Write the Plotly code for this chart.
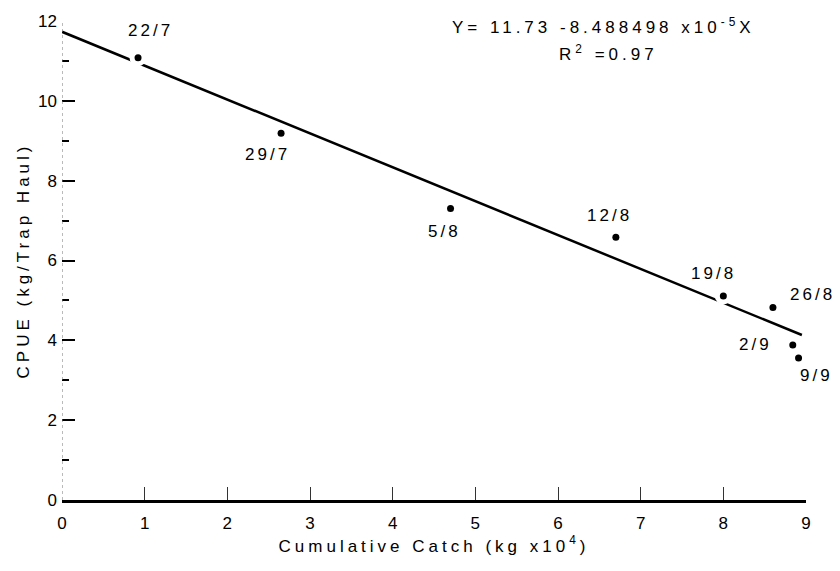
import plotly.graph_objects as go

# Data
dates = ["22/7", "29/7", "5/8", "12/8", "19/8", "26/8", "2/9", "9/9"]
cum_catch = [0.92, 2.65, 4.70, 6.70, 8.00, 8.60, 8.84, 8.91]   # kg x10^4
cpue = [11.08, 9.19, 7.30, 6.58, 5.11, 4.82, 3.88, 3.56]          # kg / trap haul

# Regression (from the printed equation)
intercept = 11.73
slope = -0.8488498  # per 10^4 kg
fit_x = [0.0, 8.95]
fit_y = [intercept + slope * v for v in fit_x]

x_ticks = list(range(0, 10))
y_ticks = list(range(0, 13, 2))

# label offsets in pixels (style)
label_dx = [12, -14, -6, -6, -10, 40, -37, 18]
label_dy = [-27, 21, 23, -22, -23, -13, -1, 18]

FONT = "Liberation Sans, Arial, sans-serif"


def sp(t, px):
    return f'<span style="letter-spacing:{px}px">{t}</span>'


fig = go.Figure()
fig.add_trace(go.Scatter(x=fit_x, y=fit_y, mode="lines",
                         line=dict(color="black", width=2.5), hoverinfo="skip"))
fig.add_trace(go.Scatter(x=cum_catch, y=cpue, mode="markers",
                         marker=dict(color="white", size=17), hoverinfo="skip"))
fig.add_trace(go.Scatter(x=cum_catch, y=cpue, mode="markers",
                         marker=dict(color="black", size=7)))

for xv, yv, t, dx, dy in zip(cum_catch, cpue, dates, label_dx, label_dy):
    fig.add_annotation(x=xv, y=yv, text=sp(t, 3), showarrow=False, xanchor="center",
                       xshift=dx, yshift=-dy, font=dict(size=17, color="black", family=FONT))

fig.add_annotation(xref="paper", yref="paper", x=(603 - 62) / 744, y=(500 - 17) / 488,
                   xanchor="center", yanchor="middle",
                   text=sp("Y= 11.73 -8.488498 x10<sup>-5</sup>X", 4),
                   showarrow=False, font=dict(size=17, color="black", family=FONT))
fig.add_annotation(xref="paper", yref="paper", x=(608 - 62) / 744, y=(500 - 45) / 488,
                   xanchor="center", yanchor="middle",
                   text=sp("R<sup>2</sup> =0.97", 4),
                   showarrow=False, font=dict(size=17, color="black", family=FONT))

# dotted y axis line
fig.add_shape(type="line", xref="x", yref="y", x0=0, x1=0, y0=0, y1=12,
              line=dict(color="#777", width=1, dash="dot"))

fig.update_layout(
    width=840, height=571,
    margin=dict(l=62, r=34, t=12, b=71),
    paper_bgcolor="white", plot_bgcolor="white",
    showlegend=False,
    font=dict(family=FONT, color="black", size=17),
    xaxis=dict(range=[0, 9], tickvals=x_ticks, ticktext=[str(v) for v in x_ticks],
               ticks="inside", ticklen=13, tickwidth=1, tickcolor="#333",
               showline=True, linecolor="black", linewidth=2.5, showgrid=False,
               zeroline=False, tickfont=dict(size=17), ticklabelstandoff=6,
               title=dict(text=sp("Cumulative Catch (kg x10<sup>4</sup>)", 4),
                          font=dict(size=17), standoff=8)),
    yaxis=dict(range=[0, 12], tickvals=y_ticks, ticktext=[str(v) for v in y_ticks],
               ticks="inside", ticklen=13, tickwidth=2, tickcolor="black",
               minor=dict(dtick=1, ticks="inside", ticklen=7, tickwidth=2, tickcolor="black"),
               showline=False, showgrid=False, zeroline=False, tickfont=dict(size=17),
               ticklabelstandoff=4,
               title=dict(text=sp("CPUE (kg/Trap Haul)", 4),
                          font=dict(size=17), standoff=4)),
)

fig.write_html("out.html")
